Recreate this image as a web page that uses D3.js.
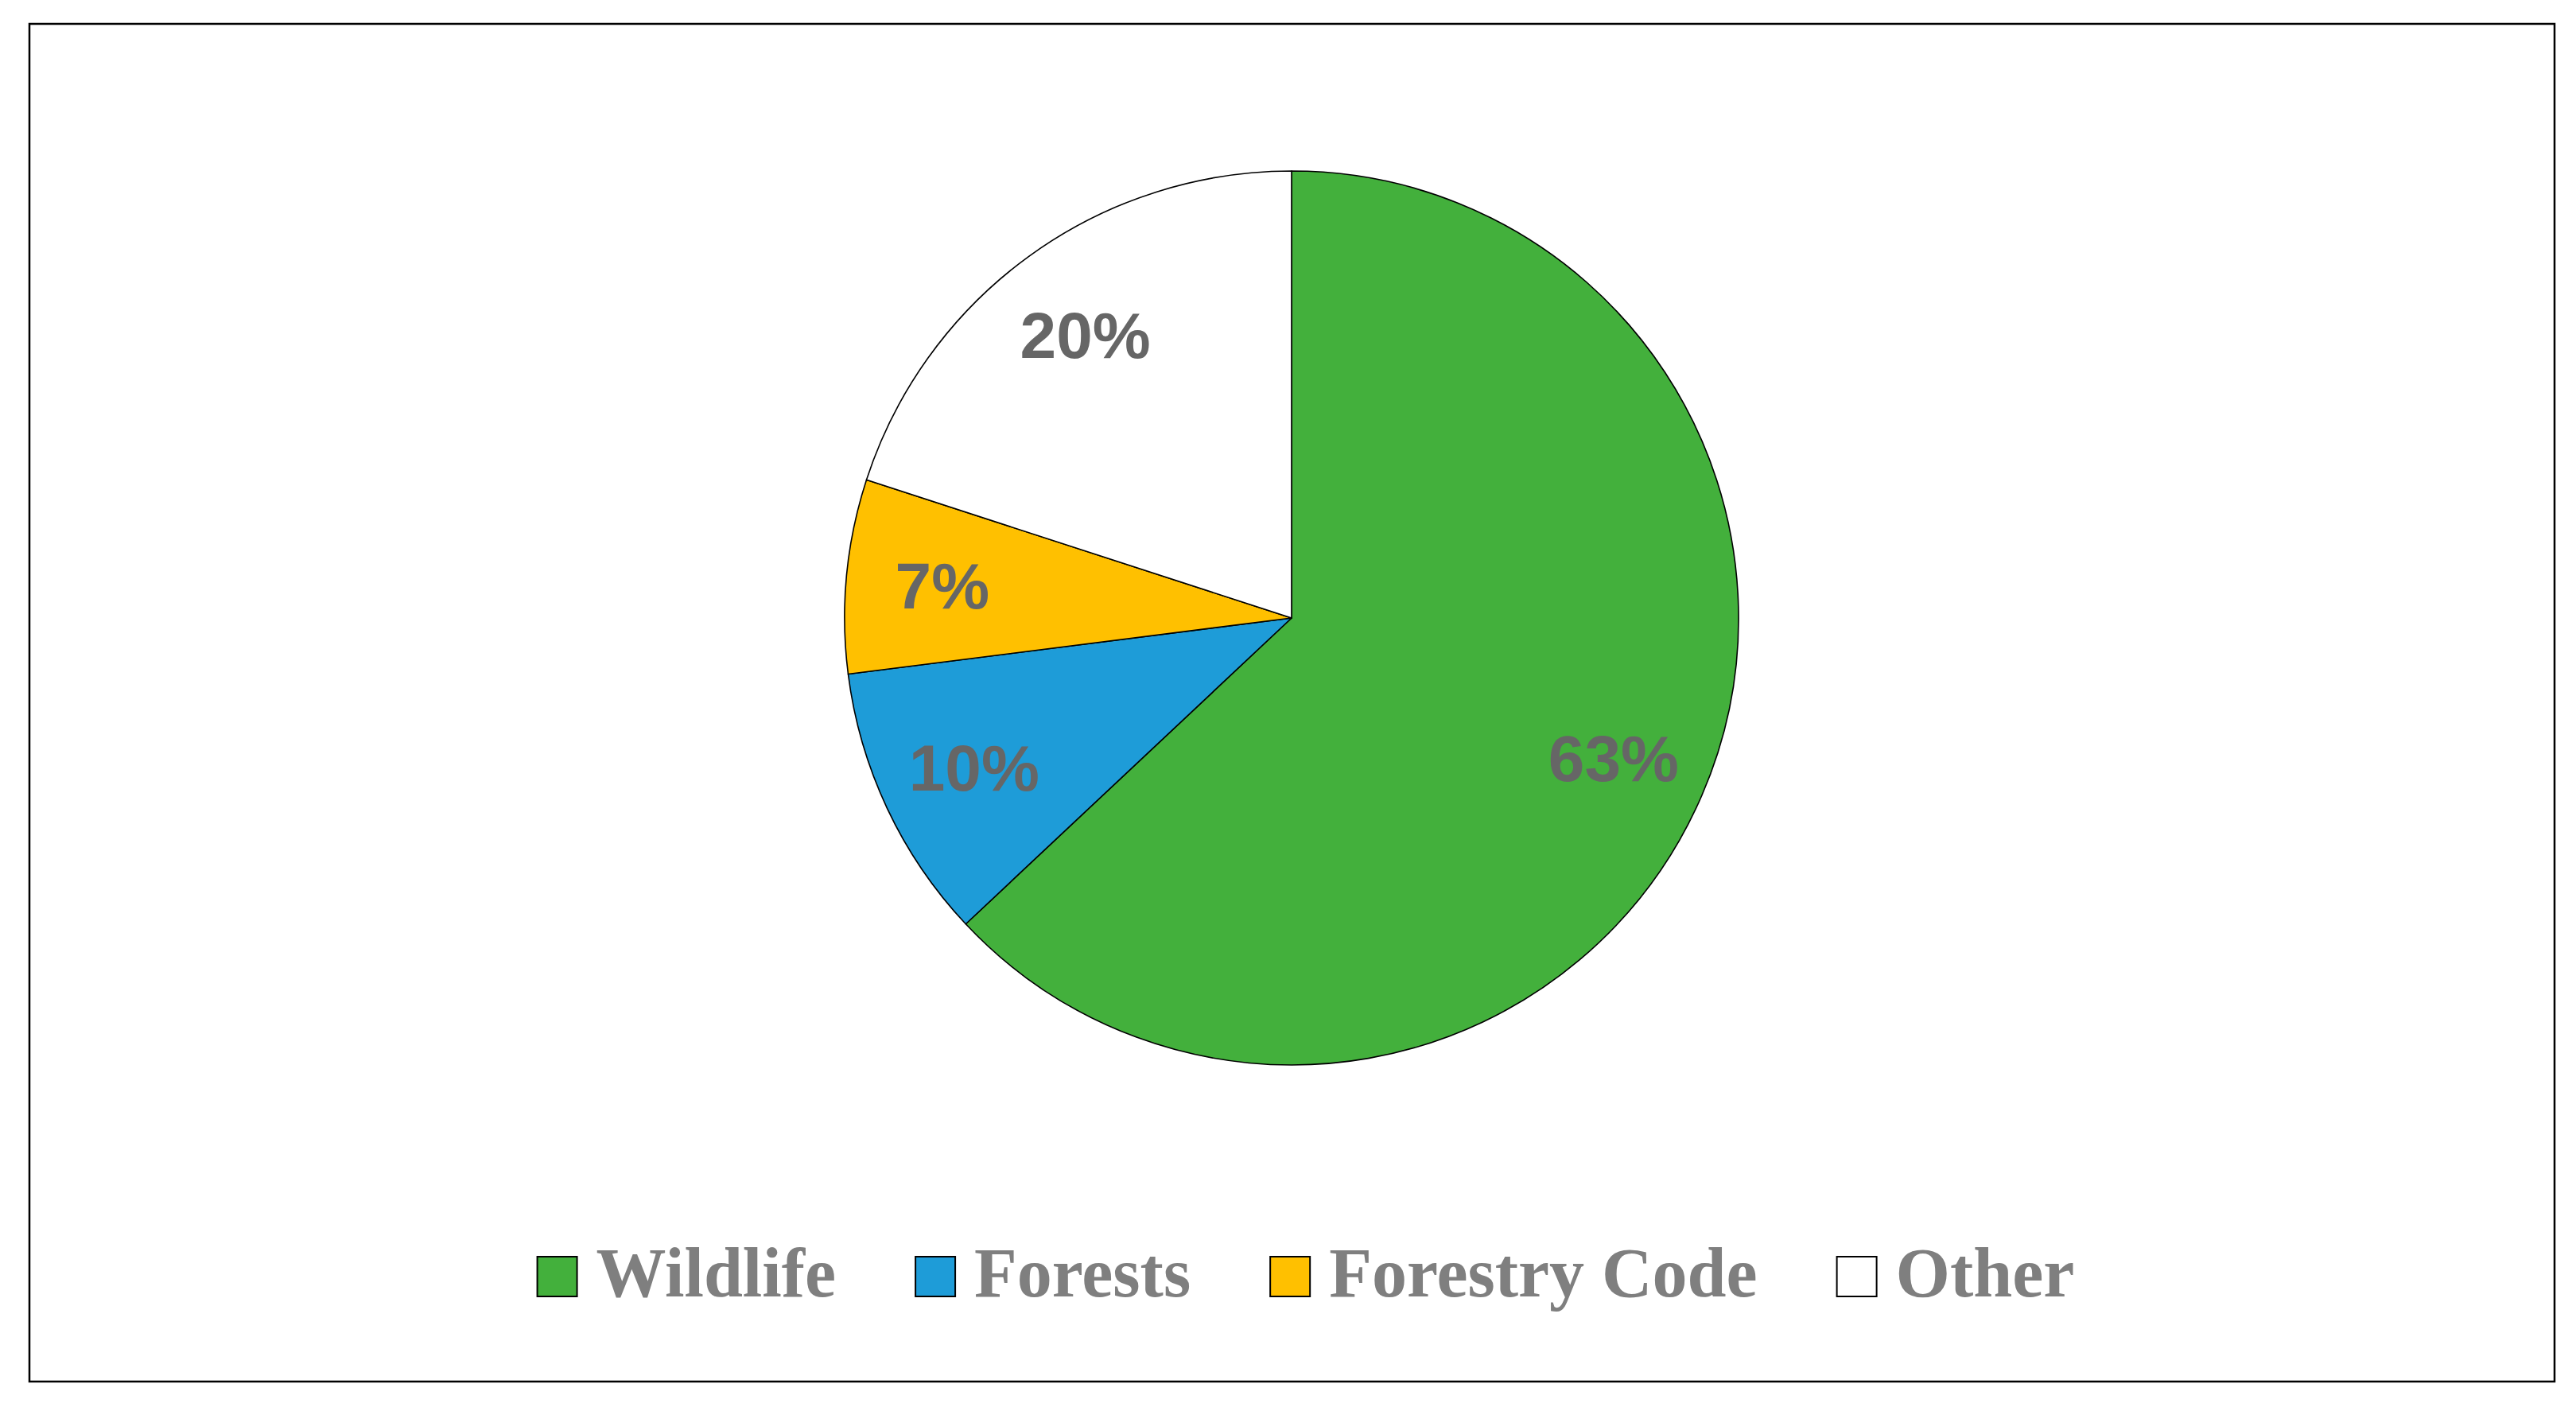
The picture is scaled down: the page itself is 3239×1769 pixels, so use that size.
<!DOCTYPE html>
<html>
<head>
<meta charset="utf-8">
<script src="https://cdn.jsdelivr.net/npm/d3@7"></script>
<style>
  html, body { margin: 0; padding: 0; background: #ffffff; }
  svg { display: block; }
</style>
</head>
<body>
<svg id="chart" width="3239" height="1769"></svg>
<script>
// ---- data ----
const categories = ["Wildlife", "Forests", "Forestry Code", "Other"];
const values = [63, 10, 7, 20];
const colors = ["#43B03C", "#1E9CD8", "#FFC000", "#FFFFFF"];

// ---- layout ----
const W = 3239, H = 1769;
const svg = d3.select("#chart");

svg.append("rect")
  .attr("x", 37).attr("y", 30)
  .attr("width", 3212 - 37).attr("height", 1737 - 30)
  .attr("fill", "#ffffff")
  .attr("stroke", "#000000")
  .attr("stroke-width", 2.5);

const cx = 1624, cy = 777, R = 562;

const pie = d3.pie().sort(null).value(d => d.value);
const arcs = pie(categories.map((c, i) => ({ name: c, value: values[i], color: colors[i] })));

const arc = d3.arc().innerRadius(0).outerRadius(R);
const labelArc = d3.arc().innerRadius(R * 0.785).outerRadius(R * 0.785);

const g = svg.append("g").attr("transform", `translate(${cx},${cy})`);

g.selectAll("path.slice")
  .data(arcs)
  .join("path")
  .attr("class", "slice")
  .attr("d", arc)
  .attr("fill", d => d.data.color)
  .attr("stroke", "#000000")
  .attr("stroke-width", 1.6)
  .attr("stroke-linejoin", "round");

const total = d3.sum(values);
g.selectAll("text.lbl")
  .data(arcs)
  .join("text")
  .attr("class", "lbl")
  .attr("transform", d => {
    const [x, y] = labelArc.centroid(d);
    return `translate(${x},${y})`;
  })
  .attr("text-anchor", "middle")
  .attr("dy", "0.36em")
  .attr("font-family", "'Liberation Sans', Arial, sans-serif")
  .attr("font-weight", "bold")
  .attr("font-size", 82)
  .attr("fill", "#666666")
  .text(d => d3.format(".0%")(d.data.value / total));

// ---- legend ----
const legendY = 1630;       // text baseline
const sq = 50;
const sqToText = 74;
const itemGap = 100;
const legend = svg.append("g");
const items = legend.selectAll("g.item")
  .data(arcs)
  .join("g")
  .attr("class", "item");

items.append("rect")
  .attr("width", sq).attr("height", sq)
  .attr("y", legendY - sq)
  .attr("fill", d => d.data.color)
  .attr("stroke", "#000000")
  .attr("stroke-width", 2);

items.append("text")
  .attr("x", sqToText)
  .attr("y", legendY)
  .attr("font-family", "'Palatino Linotype', 'Book Antiqua', Palatino, 'Liberation Serif', serif")
  .attr("font-weight", "bold")
  .attr("font-size", 88)
  .attr("fill", "#7F7F7F")
  .text(d => d.data.name);

// position items sequentially, centred on the reference legend centre
let widths = [];
items.each(function() {
  widths.push(sqToText + d3.select(this).select("text").node().getComputedTextLength());
});
const totalW = d3.sum(widths) + itemGap * (widths.length - 1);
let x0 = 1642 - totalW / 2;
items.each(function(d, i) {
  d3.select(this).attr("transform", `translate(${x0},0)`);
  x0 += widths[i] + itemGap;
});
</script>
</body>
</html>
